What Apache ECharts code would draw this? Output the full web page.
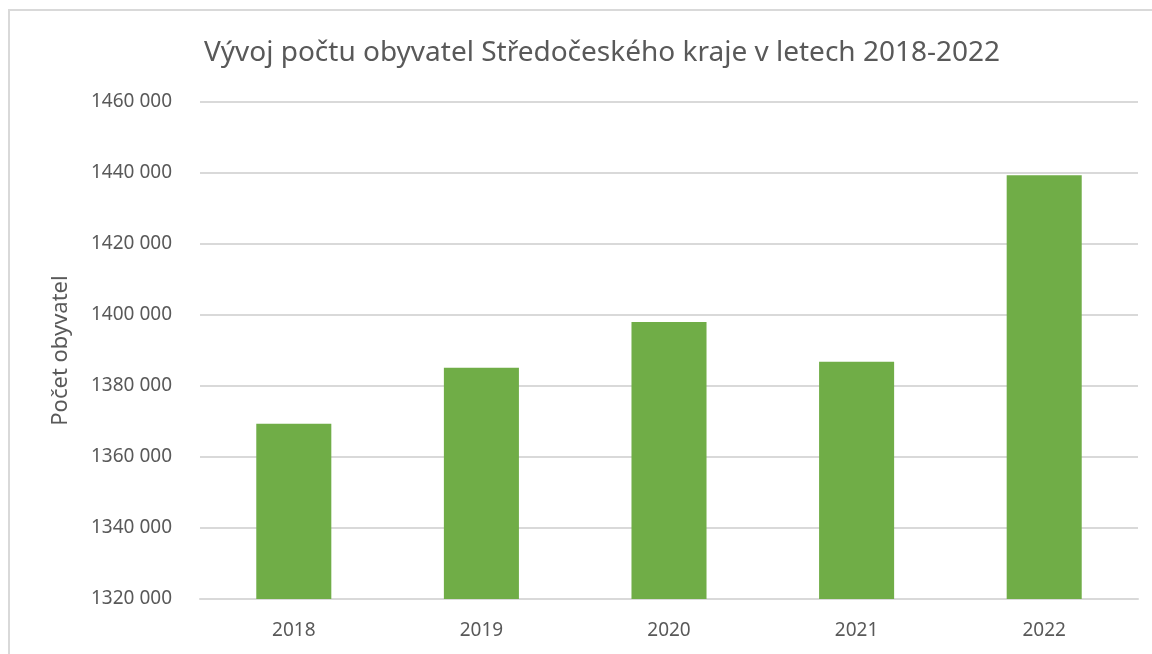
<!DOCTYPE html>
<html>
<head>
<meta charset="utf-8">
<script src="https://cdn.jsdelivr.net/npm/echarts@6/dist/echarts.min.js"></script>
<style>
    html, body { margin: 0; padding: 0; background: #fff; overflow: hidden; }
    #frame { position: absolute; left: 8px; top: 9px; width: 1200px; height: 700px; border-left: 2px solid #d9d9d9; border-top: 2px solid #d9d9d9; }
    #chart { position: absolute; left: 0; top: 0; width: 1152px; height: 654px; }
</style>
</head>
<body>
<div id="frame"></div>
<div id="chart"></div>
<script>
const years = ['2018', '2019', '2020', '2021', '2022'];
const population = [1369332, 1385141, 1397997, 1386824, 1439391];

const titleText = 'Vývoj počtu obyvatel Středočeského kraje v letech 2018-2022';
const yAxisName = 'Počet obyvatel';

const chart = echarts.init(document.getElementById('chart'));
const font = 'Noto Sans';

chart.setOption({
    animation: false,
    title: {
        text: titleText,
        left: 597,
        textAlign: 'center',
        top: 34,
        textStyle: { fontFamily: font, fontSize: 28, fontWeight: 'normal', color: '#595959' }
    },
    grid: { left: 200, right: 14, top: 102, bottom: 55 },
    xAxis: {
        type: 'category',
        data: years,
        axisLine: { lineStyle: { color: '#d9d9d9', width: 2 } },
        axisTick: { show: false },
        axisLabel: { fontFamily: font, fontSize: 19, color: '#595959', margin: 22 }
    },
    yAxis: {
        type: 'value',
        min: 1320000,
        max: 1460000,
        interval: 20000,
        name: yAxisName,
        nameLocation: 'middle',
        nameGap: 128,
        nameTextStyle: { fontFamily: font, fontSize: 22, color: '#595959' },
        axisLine: { show: false },
        axisTick: { show: false },
        splitLine: { lineStyle: { color: '#d9d9d9', width: 2 } },
        axisLabel: {
            fontFamily: font, fontSize: 19, color: '#595959', margin: 28,
            formatter: v => Math.floor(v / 1000) + ' ' + String(v % 1000).padStart(3, '0')
        }
    },
    series: [{
        type: 'bar',
        data: population,
        barWidth: '40%',
        itemStyle: { color: '#70ad47' }
    }]
});
</script>
</body>
</html>
